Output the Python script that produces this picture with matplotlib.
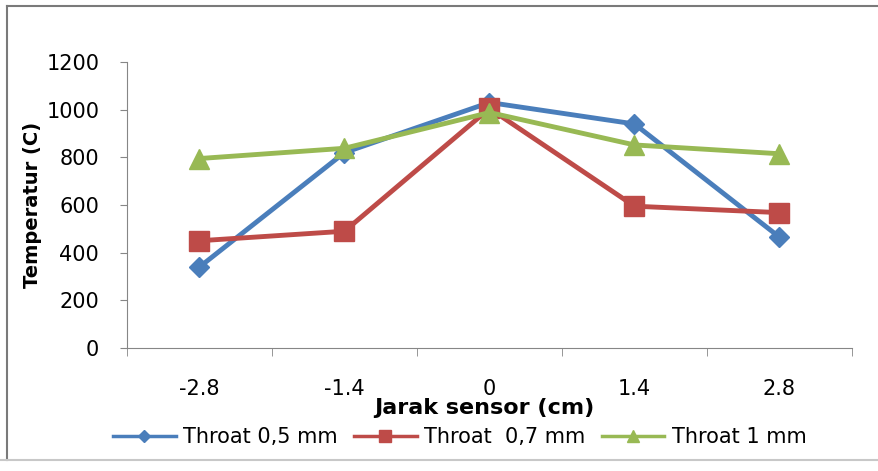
import matplotlib.pyplot as plt
from matplotlib.lines import Line2D

# Data
jarak = ['-2.8', '-1.4', '0', '1.4', '2.8']
throat_05 = [340, 820, 1030, 940, 465]
throat_07 = [450, 490, 1005, 595, 568]
throat_1 = [795, 838, 988, 852, 815]

plt.rcParams['font.family'] = ['DejaVu Sans']

fig = plt.figure(figsize=(8.79, 4.71), dpi=100)
ax = fig.add_axes([127 / 879, 1 - 348 / 471, 725 / 879, 286 / 471])

x = range(len(jarak))
ax.plot(x, throat_05, color='#4A7EBB', lw=3.5, marker='D', ms=10, label='Throat 0,5 mm')
ax.plot(x, throat_07, color='#BE4B48', lw=3.5, marker='s', ms=14, label='Throat  0,7 mm')
ax.plot(x, throat_1, color='#98B954', lw=3.5, marker='^', ms=14, label='Throat 1 mm')

ax.set_xlim(-0.5, len(jarak) - 0.5)
ax.set_ylim(0, 1200)
ax.set_yticks(range(0, 1201, 200))
ax.set_xticks(list(x))
ax.set_xticklabels(jarak)
ax.set_xticks([i - 0.5 for i in range(len(jarak) + 1)], minor=True)

ax.tick_params(axis='x', which='major', length=0, pad=22, labelsize=15)
ax.tick_params(axis='x', which='minor', length=6, color='#868686')
ax.tick_params(axis='y', length=5, color='#868686', labelsize=15, pad=15)

for s in ['top', 'right']:
    ax.spines[s].set_visible(False)
for s in ['left', 'bottom']:
    ax.spines[s].set_color('#868686')

ax.set_xlabel('Jarak sensor (cm)', fontsize=16, fontweight='bold')
ax.xaxis.set_label_coords(0.493, -0.175)
ax.set_ylabel('Temperatur (C)', fontsize=14, fontweight='bold')
ax.yaxis.set_label_coords(-0.117, 0.5)

leg = ax.legend(loc='center', bbox_to_anchor=(0.459, -0.311), ncol=3, frameon=False,
                fontsize=15, handlelength=3.0, handletextpad=0.35, columnspacing=0.8,
                markerscale=0.65)
for ln in leg.get_lines():
    ln.set_linewidth(2.5)

# outer chart frame (left, top, bottom edges; right edge lies outside the picture)
x0, y_top, y_bot = 7 / 879, 1 - 6 / 471, 1 - 460 / 471
fig.add_artist(Line2D([x0, x0], [y_bot, y_top], transform=fig.transFigure, color='#7a7a7a', lw=1.5))
fig.add_artist(Line2D([x0, 1], [y_top, y_top], transform=fig.transFigure, color='#7a7a7a', lw=1.5))
fig.add_artist(Line2D([0, 1], [y_bot, y_bot], transform=fig.transFigure, color='#c8c8c8', lw=1.5))

fig.savefig('out.png', dpi=100)
